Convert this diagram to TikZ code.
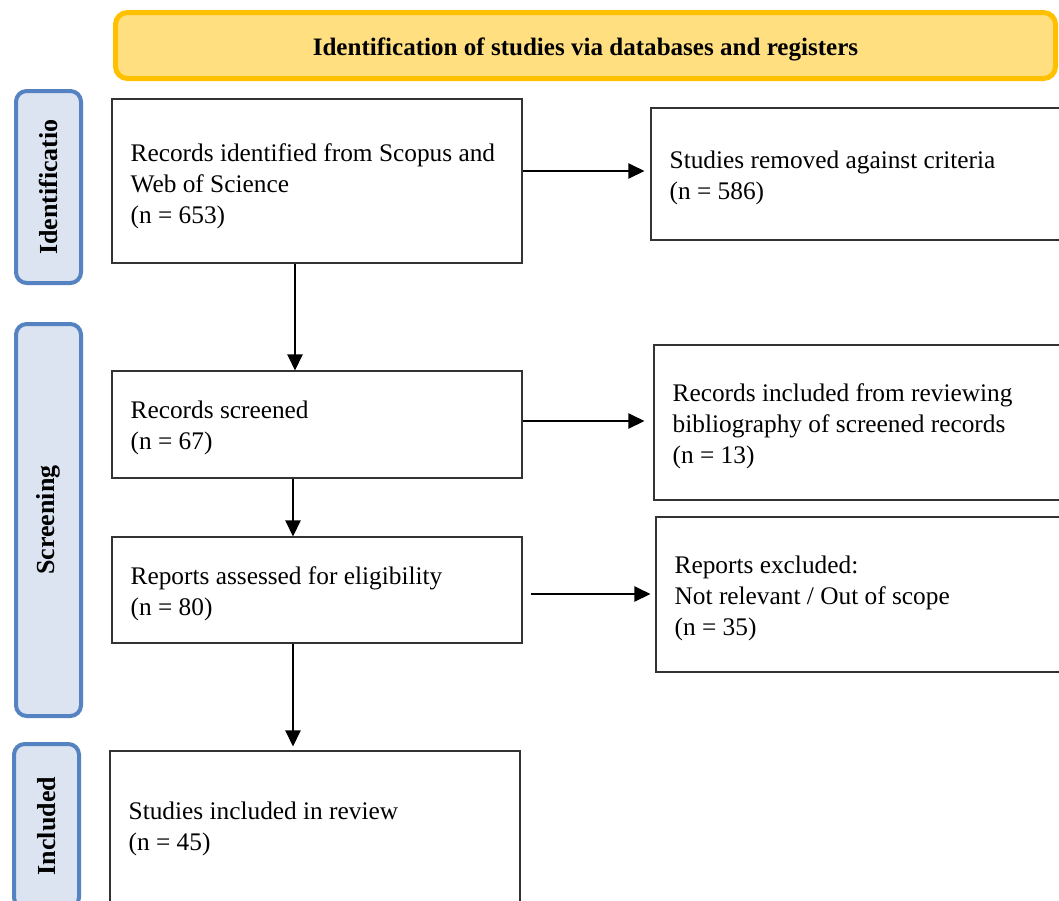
\documentclass[tikz,border=0pt]{standalone}
\usepackage{fontspec}
\setmainfont{Liberation Serif}
\usetikzlibrary{arrows.meta}
\definecolor{bannerfill}{HTML}{FFDF80}
\definecolor{bannerline}{HTML}{FFC000}
\definecolor{phasefill}{HTML}{DCE4F1}
\definecolor{phaseline}{HTML}{5582C0}
\begin{document}
\begin{tikzpicture}[x=0.75pt,y=-0.75pt,
  flowbox/.style={draw=black!80, line width=0.9pt, fill=white, inner sep=0pt},
  flowtext/.style={anchor=west, align=left, inner sep=0pt, font=\fontsize{19}{23.3}\selectfont},
  phase/.style={draw=phaseline, fill=phasefill, line width=3pt, rounded corners=8pt, inner sep=0pt},
  phasetext/.style={rotate=90, font=\bfseries\fontsize{19.5}{20}\selectfont, inner sep=0pt},
  banner/.style={draw=bannerline, fill=bannerfill, line width=3.75pt, rounded corners=9pt, inner sep=0pt},
  bannertext/.style={font=\bfseries\fontsize{18.8}{20}\selectfont, inner sep=0pt},
  arr/.style={line width=1pt, -{Triangle[length=12pt,width=11.5pt]}}]
\useasboundingbox (0,0) rectangle (1059,900);
\begin{scope}
\clip (0,0) rectangle (1059,900);
% banner
\node[banner, minimum width=705pt, minimum height=49.5pt] (ban) at (585.5,45.5) {};
\node[bannertext] (bant) at ([yshift=-3pt]ban.center) {Identification of studies via databases and registers};
% phase labels
\node[phase, minimum width=48.75pt, minimum height=144pt] (pid) at (48.5,187) {};
\node[phasetext] (pidt) at (pid.center) {Identificatio};
\node[phase, minimum width=48.75pt, minimum height=294pt] (psc) at (48.5,520) {};
\node[phasetext] (psct) at (psc.center) {Screening};
\node[phase, minimum width=48.75pt, minimum height=123pt] (pin) at (46.5,826) {};
\node[phasetext] (pint) at (pin.center) {Included};
% main boxes
\node[flowbox, minimum width=307.5pt, minimum height=123pt] (B1) at (317,181) {};
\node[flowtext] (B1t) at ([xshift=14.25pt,yshift=-3.75pt]B1.west) {Records identified from Scopus and\\Web of Science\\(n = 653)};
\node[flowbox, minimum width=321.75pt, minimum height=99pt] (R1) at (865.5,174) {};
\node[flowtext] (R1t) at ([xshift=14.25pt,yshift=-3pt]R1.west) {Studies removed against criteria\\(n = 586)};
\node[flowbox, minimum width=307.5pt, minimum height=80.25pt] (B2) at (317,424.5) {};
\node[flowtext] (B2t) at ([xshift=14.25pt,yshift=-2.25pt]B2.west) {Records screened\\(n = 67)};
\node[flowbox, minimum width=319.5pt, minimum height=116.25pt] (R2) at (867,422.5) {};
\node[flowtext] (R2t) at ([xshift=14.25pt,yshift=-3pt]R2.west) {Records included from reviewing\\bibliography of screened records\\(n = 13)};
\node[flowbox, minimum width=307.5pt, minimum height=79.5pt] (B3) at (317,590) {};
\node[flowtext] (B3t) at ([xshift=14.25pt,yshift=-3pt]B3.west) {Reports assessed for eligibility\\(n = 80)};
\node[flowbox, minimum width=318pt, minimum height=116.25pt] (R3) at (868,594.5) {};
\node[flowtext] (R3t) at ([xshift=14.25pt,yshift=-3pt]R3.west) {Reports excluded:\\Not relevant / Out of scope\\(n = 35)};
\node[flowbox, minimum width=307.5pt, minimum height=120pt] (B4) at (315,831) {};
\node[flowtext] (B4t) at ([xshift=14.25pt,yshift=1.75pt]B4.west) {Studies included in review\\(n = 45)};
% connectors
\draw[arr] (B1.east |- 0,171) -- ([xshift=-4.5pt]R1.west |- 0,171);
\draw[arr] (B1.south -| 295,0) -- (B2.north -| 295,0);
\draw[arr] (B2.east |- 0,421) -- ([xshift=-6.75pt]R2.west |- 0,421);
\draw[arr] (B2.south -| 293,0) -- (B3.north -| 293,0);
\draw[arr] ([xshift=6pt]B3.east |- 0,594) -- ([xshift=-3.75pt]R3.west |- 0,594);
\draw[arr] (B3.south -| 293,0) -- ([yshift=3pt]B4.north -| 293,0);
\end{scope}
\end{tikzpicture}
\end{document}
